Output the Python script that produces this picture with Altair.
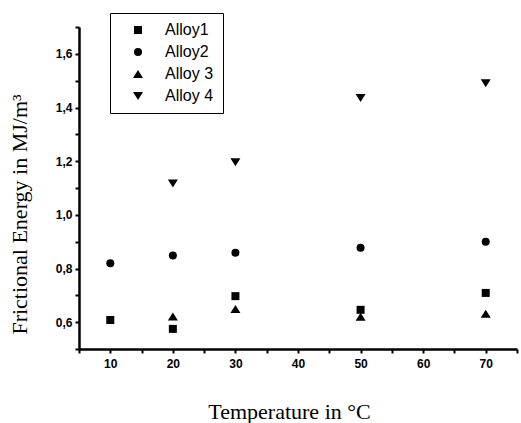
import altair as alt
import pandas as pd

temps_a1 = [10, 20, 30, 50, 70]
alloy1 = [0.608, 0.575, 0.697, 0.646, 0.709]
temps_a2 = [10, 20, 30, 50, 70]
alloy2 = [0.820, 0.848, 0.859, 0.877, 0.900]
temps_a3 = [20, 30, 50, 70]
alloy3 = [0.621, 0.649, 0.620, 0.631]
temps_a4 = [20, 30, 50, 70]
alloy4 = [1.117, 1.196, 1.435, 1.490]

series = ["Alloy1", "Alloy2", "Alloy 3", "Alloy 4"]
shapes = ["square", "circle",
          "M0,-1L1.25,1L-1.25,1Z",
          "M0,1L1.25,-1L-1.25,-1Z"]

rows = []
for name, ts, vs in zip(series, [temps_a1, temps_a2, temps_a3, temps_a4],
                        [alloy1, alloy2, alloy3, alloy4]):
    for t, v in zip(ts, vs):
        rows.append({"Temperature": t, "Energy": v, "Series": name})
df = pd.DataFrame(rows)

x_ticks = list(range(5, 80, 5))
y_ticks = [round(0.5 + 0.1 * i, 1) for i in range(13)]

chart = alt.Chart(df).mark_point(filled=True, opacity=1, color="black", size=64).encode(
    x=alt.X("Temperature:Q",
            scale=alt.Scale(domain=[5, 75], nice=False, zero=False),
            axis=alt.Axis(
                title="Temperature in °C",
                values=x_ticks,
                labelExpr="datum.value % 10 == 0 ? datum.value : ''",
                grid=False,
                domainColor="black", domainWidth=2.5,
                tickColor="black", tickWidth=2, tickSize=4,
                labelPadding=5,
                titleFontSize=22, titleBaseline="middle", titleY=62, titleX=210,
            )),
    y=alt.Y("Energy:Q",
            scale=alt.Scale(domain=[0.5, 1.7], nice=False, zero=False),
            axis=alt.Axis(
                title="Frictional Energy in MJ/m³",
                values=y_ticks,
                labelExpr="(round(datum.value*10) % 2 == 0 && datum.value > 0.55 && datum.value < 1.65) ? replace(format(datum.value, '.1f'), '.', ',') : ''",
                grid=False,
                domainColor="black", domainWidth=2.5,
                tickColor="black", tickWidth=2, tickSize=4,
                labelPadding=3,
                titleFontSize=22, titleBaseline="middle", titleAngle=-90,
                titleX=-60, titleY=187,
            )),
    shape=alt.Shape("Series:N",
                    scale=alt.Scale(domain=series, range=shapes),
                    legend=alt.Legend(
                        title=None, orient="none", legendX=31, legendY=-14,
                        strokeColor="black", fillColor="white", padding=9,
                        labelFont="Liberation Sans", labelFontSize=16, labelColor="black",
                        symbolFillColor="black", symbolStrokeColor="black",
                        symbolSize=64, rowPadding=6, labelOffset=19, symbolOffset=11,
                    )),
).properties(
    width=438, height=322,
    autosize=alt.AutoSizeParams(type="none"),
    padding={"left": 79, "top": 27, "right": 4, "bottom": 74},
    background="white",
).configure_view(stroke=None).configure_axis(
    labelFont="Liberation Sans", labelFontSize=12, labelFontWeight="bold", labelColor="black",
    titleFont="Liberation Serif", titleFontWeight="normal", titleColor="black",
)

chart.save("out.html", embed_options={"renderer": "svg", "actions": False})
